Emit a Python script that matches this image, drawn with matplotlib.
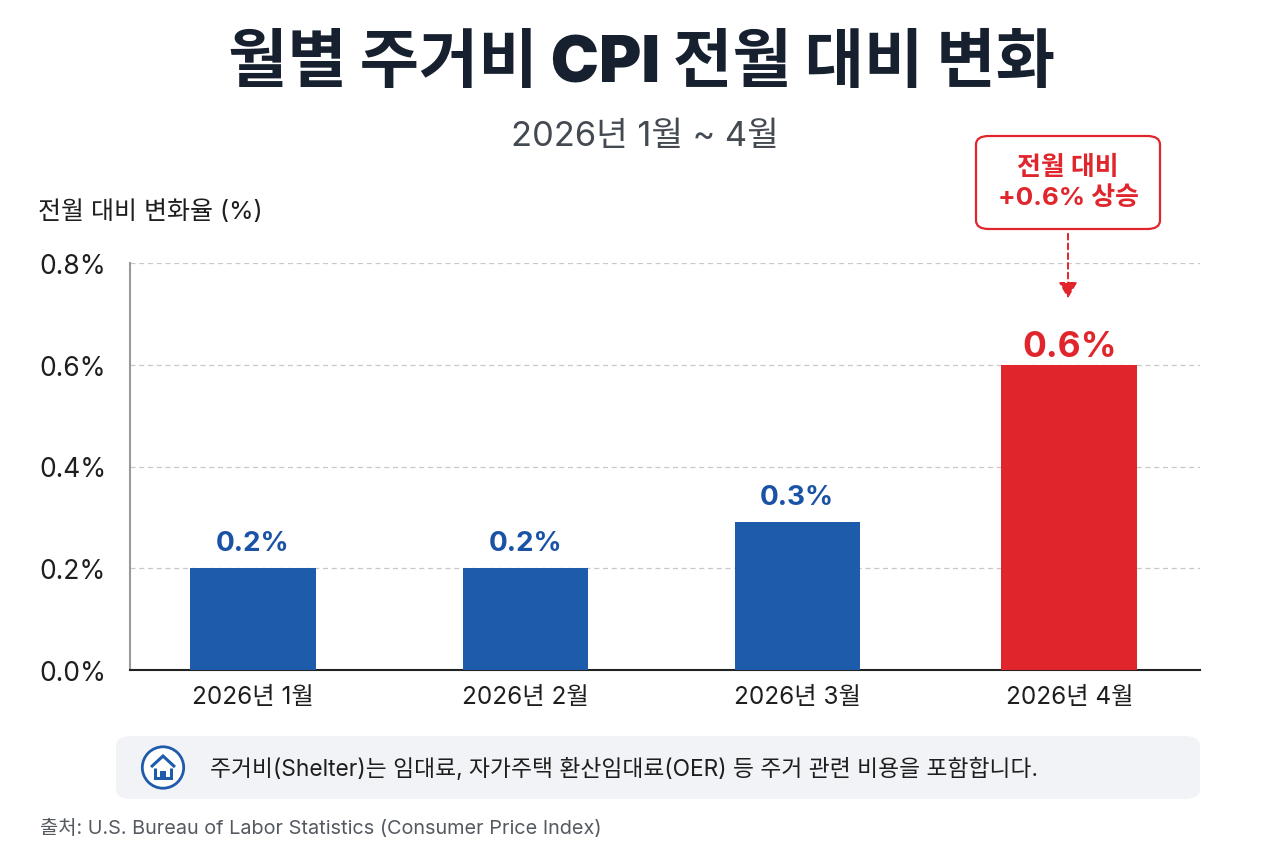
import matplotlib
matplotlib.use('Agg')
import matplotlib.pyplot as plt
from matplotlib.patches import FancyBboxPatch, Circle, Polygon, Rectangle, FancyArrowPatch

plt.rcParams['font.family'] = ['Inter', 'Noto Sans CJK KR', 'DejaVu Sans']

months = ['2026년 1월', '2026년 2월', '2026년 3월', '2026년 4월']
values = [0.2, 0.2, 0.29, 0.6]
value_labels = ['0.2%', '0.2%', '0.3%', '0.6%']
yticks = [0.0, 0.2, 0.4, 0.6, 0.8]
ytick_labels = ['0.0%', '0.2%', '0.4%', '0.6%', '0.8%']

title = '월별 주거비 CPI 전월 대비 변화'
subtitle = '2026년 1월 ~ 4월'
ylabel = '전월 대비 변화율 (%)'
callout = '전월 대비\n+0.6% 상승'
note = '주거비(Shelter)는 임대료, 자가주택 환산임대료(OER) 등 주거 관련 비용을 포함합니다.'
source = '출처: U.S. Bureau of Labor Statistics (Consumer Price Index)'

blue = '#1f5bab'
blue_txt = '#1a52a6'
red = '#e0262c'
W, H = 1280, 853

fig = plt.figure(figsize=(12.8, 8.53), dpi=100)
fig.patch.set_facecolor('white')

def fx(px):
    return px / W

def fy(py):
    return 1 - py / H

ax = fig.add_axes([fx(130), fy(671), fx(1200) - fx(130), fy(264) - fy(671)])
x = list(range(len(months)))
colors = [blue, blue, blue, red]
widths = [0.46, 0.46, 0.46, 0.5]
ax.bar(x, values, width=widths, color=colors, zorder=3)
ax.set_xlim(-0.452, 3.48)
ax.set_ylim(0, 0.8)
ax.set_yticks(yticks)
ax.set_yticklabels(ytick_labels, fontsize=19, color='#1e1e1e', ha='left')
ax.tick_params(axis='y', length=0, pad=65)
ax.set_xticks(x)
ax.set_xticklabels(months, fontsize=17.5, color='#1e1e1e')
ax.tick_params(axis='x', length=0, pad=11)
ax.grid(axis='y', color='#c8c8c8', linestyle=(0, (4, 3)), linewidth=0.9, zorder=0)
for s in ['top', 'right']:
    ax.spines[s].set_visible(False)
ax.spines['left'].set_color('#9a9a9a')
ax.spines['left'].set_linewidth(1.5)
ax.spines['bottom'].set_color('#222222')
ax.spines['bottom'].set_linewidth(1.5)

for i, (v, lab) in enumerate(zip(values, value_labels)):
    if i == 3:
        ax.text(i, v + 0.035, lab, ha='center', va='center', fontsize=25.5,
                fontweight='bold', color=red)
    else:
        ax.text(i, v + 0.05, lab, ha='center', va='center', fontsize=20,
                fontweight='bold', color=blue_txt)

# titles
fig.text(fx(641), fy(65), title, ha='center', va='center', fontsize=46.5,
         fontweight='black', color='#16202e')
fig.text(fx(645), fy(137), subtitle, ha='center', va='center', fontsize=24.8,
         color='#444a52')
fig.text(fx(38), fy(212), ylabel, ha='left', va='center', fontsize=18,
         color='#1e1e1e')

# callout box
fig.text(fx(1068), fy(183), callout, ha='center', va='center', fontsize=18.7,
         fontweight='bold', color=red, linespacing=1.3, zorder=5)
box = FancyBboxPatch((fx(976), fy(230)), fx(1160) - fx(976), fy(137) - fy(230),
                     boxstyle='round,pad=0,rounding_size=0.01',
                     transform=fig.transFigure, facecolor='white',
                     edgecolor=red, linewidth=1.6)
fig.patches.append(box)
fig.add_artist(FancyArrowPatch(
    (fx(1068), fy(232)), (fx(1068), fy(302)), transform=fig.transFigure,
    arrowstyle='-|>,head_length=6,head_width=3.5', linestyle=(0, (3, 2)),
    color=red, linewidth=1.4, mutation_scale=1.6))

# note box
nbox = FancyBboxPatch((fx(116), fy(800)), fx(1200) - fx(116), fy(737) - fy(800),
                      boxstyle='round,pad=0,rounding_size=0.012',
                      transform=fig.transFigure, facecolor='#f2f3f6',
                      edgecolor='none')
fig.patches.append(nbox)
fig.text(fx(210), fy(769), note, ha='left', va='center', fontsize=16.4,
         color='#1e1e1e', zorder=5)

# house icon
iax = fig.add_axes([fx(140), fy(792), fx(186) - fx(140), fy(745) - fy(792)])
iax.set_zorder(5)
iax.patch.set_alpha(0)
iax.set_xlim(-1, 1)
iax.set_ylim(-1, 1)
iax.set_aspect('equal')
iax.axis('off')
iax.add_patch(Circle((0, 0), 0.9, facecolor='white', edgecolor='#1f5bab', linewidth=2))
iax.add_patch(Polygon([[-0.52, 0.02], [0, 0.5], [0.52, 0.02]], closed=False,
                      fill=False, edgecolor='#1f5bab', linewidth=2.2))
iax.add_patch(Polygon([[-0.35, 0.0], [-0.35, -0.45], [0.35, -0.45], [0.35, 0.0]],
                      closed=False, fill=False, edgecolor='#1f5bab', linewidth=2.2))
iax.add_patch(Rectangle((-0.12, -0.45), 0.24, 0.28, facecolor='#1f5bab'))

fig.text(fx(40), fy(828), source, ha='left', va='center', fontsize=14.3,
         color='#555a60')

fig.savefig('out.png', dpi=100, facecolor='white')
